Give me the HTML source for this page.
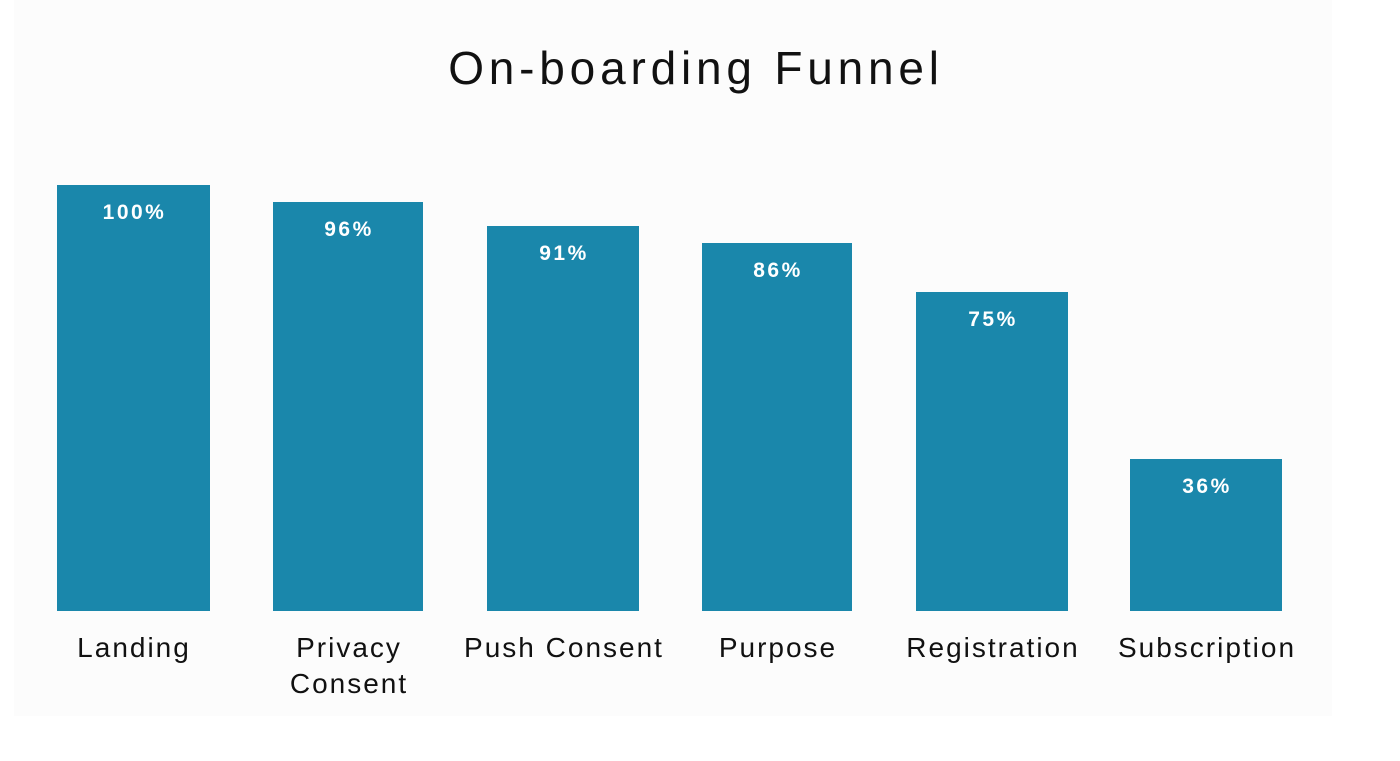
<!DOCTYPE html>
<html><head><style>
body{margin:0;width:1400px;height:761px;background:#fff;position:relative;overflow:hidden;font-family:"Liberation Sans",sans-serif}
.panel{position:absolute;left:14px;top:0;width:1318px;height:716px;background:#fcfcfc}
.title{position:absolute;left:0;width:1392px;top:41px;text-align:center;font-size:46px;color:#111;letter-spacing:4.8px}
.bar{position:absolute;background:#1a87ab}
.bar span{position:absolute;left:0;right:0;top:16px;text-align:center;color:#fff;font-weight:bold;font-size:21px;letter-spacing:2.5px;padding-left:2px}
.lab{position:absolute;top:630px;text-align:center;font-size:28px;color:#111;line-height:36px;width:240px;letter-spacing:2px}
</style></head><body>
<div class="panel"></div>
<div class="title">On-boarding Funnel</div>
<div class="bar" style="left:57px;width:153px;top:185px;height:426px"><span>100%</span></div>
<div class="bar" style="left:273px;width:150px;top:202px;height:409px"><span>96%</span></div>
<div class="bar" style="left:487px;width:152px;top:226px;height:385px"><span>91%</span></div>
<div class="bar" style="left:702px;width:150px;top:243px;height:368px"><span>86%</span></div>
<div class="bar" style="left:916px;width:152px;top:292px;height:319px"><span>75%</span></div>
<div class="bar" style="left:1130px;width:152px;top:459px;height:152px"><span>36%</span></div>
<div class="lab" style="left:14px">Landing</div>
<div class="lab" style="left:229px">Privacy<br>Consent</div>
<div class="lab" style="left:444px">Push Consent</div>
<div class="lab" style="left:658px">Purpose</div>
<div class="lab" style="left:873px">Registration</div>
<div class="lab" style="left:1087px">Subscription</div>
</body></html>
